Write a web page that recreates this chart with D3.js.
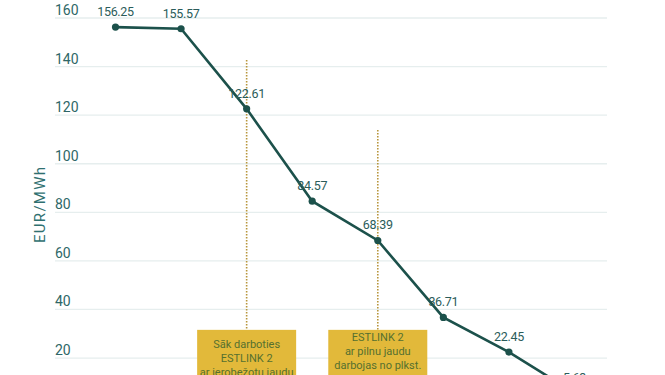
<!DOCTYPE html>
<html>
<head>
<meta charset="utf-8">
<script src="https://cdn.jsdelivr.net/npm/d3@7"></script>
<style>
  html, body { margin: 0; padding: 0; background: #ffffff; overflow: hidden; }
  svg { display: block; }
</style>
</head>
<body>
<svg id="chart" width="665" height="375"></svg>
<script>
// ---- data ----
const categories = ["1", "2", "3", "4", "5", "6", "7", "8"];
const prices = [156.25, 155.57, 122.61, 84.57, 68.39, 36.71, 22.45, 5.63];
const yTicks = [20, 40, 60, 80, 100, 120, 140, 160];
const yTitle = "EUR/MWh";
const annotationCategories = ["3", "5"];
const annotationTops = [142.7, 113.9];
const annotationTexts = [
  ["Sāk darboties", "ESTLINK 2", "ar ierobežotu jaudu"],
  ["ESTLINK 2", "ar pilnu jaudu", "darbojas no plkst.", "10:00"]
];

// ---- layout ----
const svg = d3.select("#chart");
const x = d3.scalePoint().domain(categories).range([115.5, 574.5]);
const y = d3.scaleLinear().domain([0, 160]).range([406.6, 18]);
const gridLeft = 55, gridRight = 607;

// gridlines
svg.append("g").selectAll("line").data(yTicks).join("line")
  .attr("x1", gridLeft).attr("x2", gridRight)
  .attr("y1", d => y(d)).attr("y2", d => y(d))
  .attr("stroke", "#e6eeee").attr("stroke-width", 1.3);

// tick labels
svg.append("g").selectAll("text").data(yTicks).join("text")
  .attr("x", gridLeft).attr("y", d => y(d) - 3)
  .attr("font-family", "Roboto, 'Noto Sans', sans-serif")
  .attr("font-size", 14)
  .attr("fill", "#2e6767")
  .text(d => d);

// y title
svg.append("text")
  .attr("transform", `translate(45, ${y(80) - 8}) rotate(-90)`)
  .attr("text-anchor", "middle")
  .attr("font-family", "Roboto, 'Noto Sans', sans-serif")
  .attr("font-size", 15)
  .attr("letter-spacing", 1.3)
  .attr("fill", "#2f7070")
  .text(yTitle);

// annotations: dotted lines
const boxTop = y(31.6);
const ann = svg.append("g");
annotationCategories.forEach((c, i) => {
  ann.append("line")
    .attr("x1", x(c)).attr("x2", x(c))
    .attr("y1", y(annotationTops[i])).attr("y2", boxTop)
    .attr("stroke", "#b8963c").attr("stroke-width", 1.6)
    .attr("stroke-dasharray", "1.5,1.5");
});

// line
const pts = categories.map((c, i) => [c, prices[i]]);
svg.append("path")
  .datum(pts)
  .attr("d", d3.line().x(d => x(d[0])).y(d => y(d[1])))
  .attr("fill", "none")
  .attr("stroke", "#1c514b")
  .attr("stroke-width", 2.6);

svg.append("g").selectAll("circle").data(pts).join("circle")
  .attr("cx", d => x(d[0])).attr("cy", d => y(d[1]))
  .attr("r", 3.6).attr("fill", "#1c514b");

// value labels
svg.append("g").selectAll("text").data(pts).join("text")
  .attr("x", d => x(d[0])).attr("y", d => y(d[1]) - 11)
  .attr("text-anchor", "middle")
  .attr("font-family", "Roboto, 'Noto Sans', sans-serif")
  .attr("font-size", 12.5)
  .attr("letter-spacing", -0.3)
  .attr("fill", "#2b5c5a")
  .text(d => d3.format(".2f")(d[1]));

// annotation boxes
annotationCategories.forEach((c, i) => {
  const bw = 99, bh = 58;
  const g = svg.append("g");
  g.append("rect")
    .attr("x", x(c) - bw / 2).attr("y", boxTop)
    .attr("width", bw).attr("height", bh)
    .attr("fill", "#e2b93a");
  const lines = annotationTexts[i];
  const lh = 13.8;
  const cy = boxTop + bh / 2;
  lines.forEach((t, j) => {
    g.append("text")
      .attr("x", x(c))
      .attr("y", cy + (j - (lines.length - 1) / 2) * lh + 3)
      .attr("text-anchor", "middle")
      .attr("font-family", "Roboto, 'Noto Sans', sans-serif")
      .attr("font-size", 11)
      .attr("fill", "#55702f")
      .text(t);
  });
});
</script>
</body>
</html>
